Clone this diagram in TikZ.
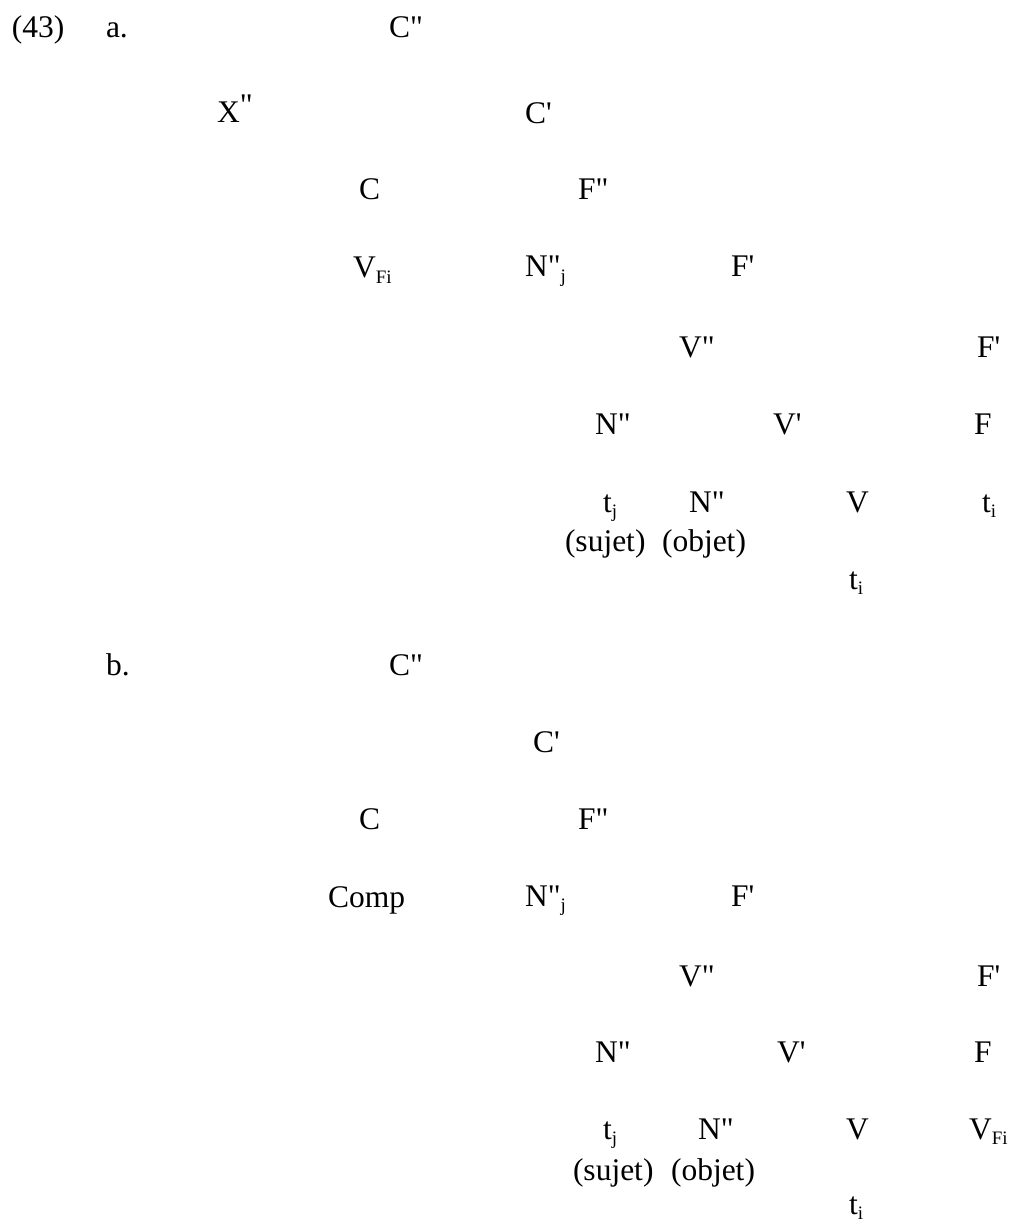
\documentclass[tikz,border=0pt]{standalone}
\usepackage{fontspec}
\newfontfamily\tfont{Liberation Serif}
\newcommand{\dq}{\char"22\relax}
\newcommand{\sq}{\char"27\relax}
\newcommand{\lowsub}[1]{\raisebox{-5.5pt}{\fontsize{19}{19}\selectfont #1}}
\tikzset{
  lbl/.style={anchor=base west, inner sep=0pt, outer sep=0pt,
    font=\tfont\fontsize{31.5}{36}\selectfont}
}
\begin{document}
\begin{tikzpicture}[x=1pt,y=-1pt]
\useasboundingbox (0,0) rectangle (1009,1222);
% ---------- (43a) ----------
\node[lbl] (num) at (12,38) {(43)};
\node[lbl] (la) at (106,38) {a.};
\node[lbl] (aCpp) at (389,38) {C\dq};
\node[lbl] (aXpp) at (217,123) {X\raisebox{7pt}{\dq}};
\node[lbl] (aCp) at (525,124) {C\sq};
\node[lbl] (aC) at (359,200) {C};
\node[lbl] (aFpp) at (578,200) {F\dq};
\node[lbl] (aVFi) at (353,278) {V\lowsub{Fi}};
\node[lbl] (aNj) at (525,277) {N\dq\lowsub{j}};
\node[lbl] (aFp1) at (731,277) {F\sq};
\node[lbl] (aVpp) at (679,357) {V\dq};
\node[lbl] (aFp2) at (977,357) {F\sq};
\node[lbl] (aNsub) at (595,434) {N\dq};
\node[lbl] (aVp) at (773,434) {V\sq};
\node[lbl] (aF) at (974,434) {F};
\node[lbl] (atj) at (603,512) {t\lowsub{j}};
\node[lbl] (aNobj) at (689,512) {N\dq};
\node[lbl] (aV) at (846,512) {V};
\node[lbl] (ati1) at (982,512) {t\lowsub{i}};
\node[lbl] (asuj) at (565,551) {(sujet)};
\node[lbl] (aobj) at (662,551) {(objet)};
\node[lbl] (ati2) at (849,589) {t\lowsub{i}};
% ---------- (43b) ----------
\node[lbl] (lb) at (106,675) {b.};
\node[lbl] (bCpp) at (389,675) {C\dq};
\node[lbl] (bCp) at (533,752) {C\sq};
\node[lbl] (bC) at (359,829) {C};
\node[lbl] (bFpp) at (578,829) {F\dq};
\node[lbl] (bComp) at (328,907) {Comp};
\node[lbl] (bNj) at (525,906) {N\dq\lowsub{j}};
\node[lbl] (bFp1) at (731,906) {F\sq};
\node[lbl] (bVpp) at (679,986) {V\dq};
\node[lbl] (bFp2) at (977,986) {F\sq};
\node[lbl] (bNsub) at (595,1062) {N\dq};
\node[lbl] (bVp) at (777,1062) {V\sq};
\node[lbl] (bF) at (974,1062) {F};
\node[lbl] (btj) at (603,1139) {t\lowsub{j}};
\node[lbl] (bNobj) at (698,1139) {N\dq};
\node[lbl] (bV) at (846,1139) {V};
\node[lbl] (bVFi) at (969,1139) {V\lowsub{Fi}};
\node[lbl] (bsuj) at (573,1180) {(sujet)};
\node[lbl] (bobj) at (671,1180) {(objet)};
\node[lbl] (bti) at (849,1214) {t\lowsub{i}};
\end{tikzpicture}
\end{document}
